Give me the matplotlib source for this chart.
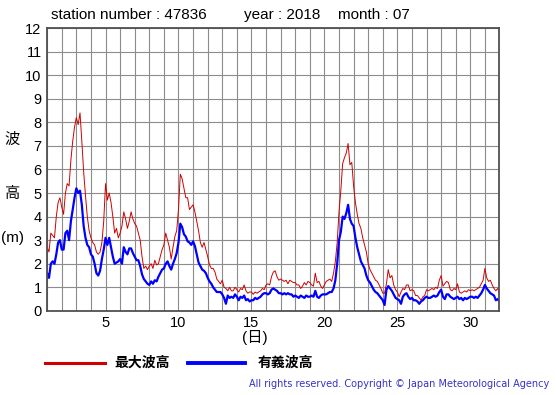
import numpy as np
import matplotlib
matplotlib.use("Agg")
import matplotlib.pyplot as plt

plt.rcParams['font.family'] = ['Liberation Sans', 'Noto Sans CJK JP', 'DejaVu Sans']

# 3-hourly readings, day 1 00h .. day 32 00h
max_wave = [
    2.7, 2.5, 3.3, 3.2, 3.1, 4.0, 4.6, 4.8,        # 1
    4.4, 4.1, 5.0, 5.4, 5.3, 6.4, 7.2, 7.8,        # 2
    8.2, 7.9, 8.4, 7.2, 5.9, 4.9, 4.0, 3.4,        # 3
    3.1, 2.9, 2.8, 2.5, 2.4, 2.5, 2.9, 3.8,        # 4
    5.4, 4.7, 5.0, 4.6, 4.0, 3.3, 3.5, 3.1,        # 5
    3.3, 3.6, 4.2, 3.9, 3.5, 3.8, 4.2, 3.9,        # 6
    3.7, 3.6, 3.3, 3.0, 2.3, 1.8, 1.9, 1.75,       # 7
    1.9, 2.0, 1.8, 2.15, 1.95, 2.0, 2.3, 2.6,      # 8
    2.8, 3.3, 3.0, 2.7, 2.2, 2.7, 3.15, 3.4,       # 9
    4.3, 5.8, 5.6, 5.2, 4.8, 4.8, 4.3, 4.4,        # 10
    4.5, 4.2, 3.8, 3.4, 2.9, 2.7, 2.9, 2.6,        # 11
    2.3, 1.95, 1.8, 1.8, 1.65, 1.35, 1.25, 1.15,   # 12
    1.3, 1.0, 0.95, 0.85, 1.0, 0.85, 0.85, 1.0,    # 13
    0.9, 0.8, 0.95, 0.9, 1.1, 0.85, 0.75, 0.8,     # 14
    0.8, 0.7, 0.8, 0.75, 0.8, 0.85, 0.95, 0.9,     # 15
    1.1, 1.15, 1.1, 1.45, 1.65, 1.7, 1.45, 1.3,    # 16
    1.35, 1.3, 1.25, 1.3, 1.15, 1.3, 1.25, 1.2,    # 17
    1.2, 1.1, 1.1, 0.95, 1.05, 1.2, 1.1, 1.25,     # 18
    1.2, 1.1, 1.05, 1.6, 1.2, 1.25, 1.05, 0.95,    # 19
    1.1, 1.25, 1.3, 1.35, 1.25, 1.6, 2.1, 2.9,     # 20
    4.2, 5.1, 6.25, 6.5, 6.7, 7.1, 6.2, 6.3,       # 21
    5.3, 4.6, 4.1, 3.7, 3.5, 3.1, 2.8, 2.5,        # 22
    2.0, 1.75, 1.6, 1.45, 1.3, 1.25, 1.1, 0.95,    # 23
    0.75, 0.75, 1.15, 1.75, 1.4, 1.5, 1.1, 0.9,    # 24
    0.8, 0.6, 0.8, 0.95, 0.9, 1.1, 1.1, 0.85,      # 25
    0.9, 0.85, 0.65, 0.65, 0.55, 0.45, 0.6, 0.65,  # 26
    0.9, 0.85, 0.9, 0.95, 0.9, 1.0, 0.95, 1.3,     # 27
    1.5, 1.05, 1.15, 1.25, 1.2, 0.9, 0.85, 0.95,   # 28
    0.9, 1.15, 0.8, 0.75, 0.8, 0.85, 0.8, 0.9,     # 29
    0.85, 0.9, 0.85, 0.9, 0.95, 1.0, 1.15, 1.3,    # 30
    1.8, 1.4, 1.25, 1.3, 1.1, 0.95, 0.85, 0.95,    # 31
    0.75,
]

sig_wave = [
    1.6, 1.4, 2.0, 2.1, 2.0, 2.4, 2.9, 3.0,        # 1
    2.6, 2.6, 3.3, 3.4, 3.0, 3.8, 4.3, 4.8,        # 2
    5.2, 5.0, 5.1, 4.5, 3.6, 3.1, 2.8, 2.7,        # 3
    2.4, 2.3, 2.0, 1.6, 1.5, 1.7, 2.2, 2.6,        # 4
    3.1, 2.8, 3.1, 2.7, 2.3, 2.0, 2.05, 2.1,       # 5
    2.2, 2.0, 2.7, 2.5, 2.4, 2.65, 2.65, 2.45,     # 6
    2.3, 2.15, 2.15, 1.9, 1.55, 1.35, 1.25, 1.15,  # 7
    1.1, 1.25, 1.15, 1.3, 1.25, 1.45, 1.6, 1.75,   # 8
    1.8, 2.0, 2.1, 1.9, 1.75, 2.0, 2.2, 2.45,      # 9
    2.9, 3.7, 3.55, 3.25, 3.15, 2.95, 2.9, 2.8,    # 10
    2.95, 2.75, 2.4, 2.05, 1.9, 1.75, 1.7, 1.6,    # 11
    1.4, 1.25, 1.15, 1.0, 0.9, 0.8, 0.8, 0.8,      # 12
    0.7, 0.55, 0.3, 0.65, 0.55, 0.6, 0.55, 0.7,    # 13
    0.6, 0.45, 0.6, 0.55, 0.65, 0.45, 0.5, 0.4,    # 14
    0.45, 0.45, 0.55, 0.5, 0.55, 0.6, 0.7, 0.75,   # 15
    0.75, 0.7, 0.75, 0.9, 0.95, 0.9, 0.85, 0.75,   # 16
    0.75, 0.7, 0.75, 0.7, 0.75, 0.7, 0.7, 0.6,     # 17
    0.65, 0.6, 0.55, 0.65, 0.6, 0.55, 0.65, 0.6,   # 18
    0.6, 0.65, 0.6, 0.85, 0.6, 0.55, 0.65, 0.7,    # 19
    0.7, 0.7, 0.75, 0.8, 0.8, 0.95, 1.3, 2.0,      # 20
    3.0, 3.35, 4.0, 3.9, 4.15, 4.5, 3.9, 3.7,      # 21
    3.6, 3.1, 2.7, 2.4, 2.1, 1.95, 1.8, 1.5,       # 22
    1.3, 1.2, 1.05, 0.9, 0.8, 0.75, 0.65, 0.55,    # 23
    0.45, 0.25, 0.9, 1.05, 0.95, 0.85, 0.7, 0.55,  # 24
    0.5, 0.45, 0.3, 0.6, 0.7, 0.75, 0.6, 0.5,      # 25
    0.55, 0.45, 0.45, 0.4, 0.3, 0.4, 0.45, 0.55,   # 26
    0.6, 0.55, 0.55, 0.6, 0.65, 0.6, 0.65, 0.8,    # 27
    0.9, 0.6, 0.5, 0.7, 0.7, 0.6, 0.55, 0.5,       # 28
    0.55, 0.6, 0.5, 0.55, 0.45, 0.55, 0.5, 0.55,   # 29
    0.6, 0.6, 0.55, 0.6, 0.55, 0.65, 0.75, 0.9,    # 30
    1.1, 0.95, 0.85, 0.75, 0.7, 0.65, 0.45, 0.5,   # 31
    0.4,
]

days = 1 + np.arange(len(max_wave)) / 8.0
day_ticks = [5, 10, 15, 20, 25, 30]
height_ticks = list(range(0, 13))

fig = plt.figure(figsize=(5.55, 3.95), dpi=100)
ax = fig.add_axes([0.085, 0.213, 0.815, 0.716])

ax.plot(days, max_wave, color='#d00000', lw=0.7)
ax.plot(days, sig_wave, color='#0000ff', lw=1.6)

ax.set_xlim(1, 32)
ax.set_ylim(0, 12)
ax.set_xticks(day_ticks)
ax.set_xticks(range(1, 33), minor=True)
ax.set_yticks(height_ticks)
ax.grid(True, which='both', color='#8c8c8c', lw=0.8)
ax.set_axisbelow(True)
ax.tick_params(which='both', length=0, labelsize=10.5, pad=4)
for s in ax.spines.values():
    s.set_color('#505050')
    s.set_linewidth(1.3)

# header
fig.text(0.091, 0.962, 'station number : 47836', fontsize=11, va='center', ha='left')
fig.text(0.440, 0.962, 'year : 2018', fontsize=11, va='center', ha='left')
fig.text(0.609, 0.962, 'month : 07', fontsize=11, va='center', ha='left')

# axis labels
fig.text(0.022, 0.645, '波', fontsize=11, ha='center', va='center')
fig.text(0.022, 0.508, '高', fontsize=11, ha='center', va='center')
fig.text(0.022, 0.398, '(m)', fontsize=11, ha='center', va='center')
fig.text(0.46, 0.145, '(日)', fontsize=11, ha='center', va='center')

# legend
fig.add_artist(plt.Line2D([0.081, 0.189], [0.081, 0.081], color='#d00000', lw=2.2,
                          transform=fig.transFigure))
fig.text(0.207, 0.081, '最大波高', fontsize=10, fontweight='bold', ha='left', va='center',
         family=['Noto Sans CJK JP'])
fig.add_artist(plt.Line2D([0.339, 0.441], [0.081, 0.081], color='#0000ff', lw=2.8,
                          transform=fig.transFigure))
fig.text(0.465, 0.081, '有義波高', fontsize=10, fontweight='bold', ha='left', va='center',
         family=['Noto Sans CJK JP'])

fig.text(0.99, 0.028, 'All rights reserved. Copyright \u00a9 Japan Meteorological Agency',
         fontsize=7, color='#3333cc', ha='right', va='center', family=['DejaVu Sans'])

fig.savefig('out.png', dpi=100)
